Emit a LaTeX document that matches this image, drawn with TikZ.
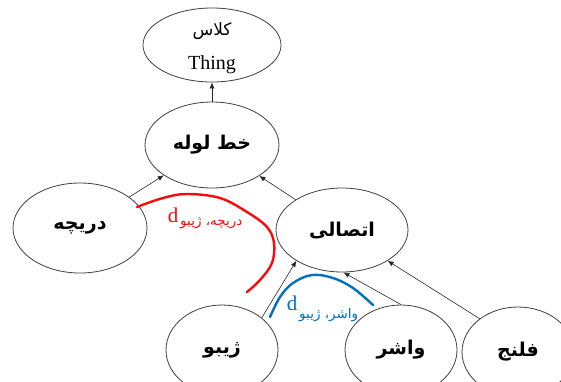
\documentclass[tikz,border=0pt]{standalone}
\usepackage{fontspec}
\setmainfont{Liberation Serif}
\newfontfamily\fa[Script=Arabic,BoldFont={DejaVu Sans Bold}]{DejaVu Sans}
\TeXXeTstate=1
\usetikzlibrary{shapes.geometric,arrows.meta}
\definecolor{rcol}{RGB}{250,10,10}
\definecolor{bcol}{RGB}{0,112,192}
\newcommand\rl[1]{\beginR #1\endR}
\tikzset{
  ent/.style={ellipse,draw=black!75,line width=0.8pt,inner sep=0pt,
    minimum width=134pt,minimum height=86pt,
    font=\fa\bfseries\fontsize{19}{22}\selectfont},
  small/.style={ent,minimum width=112pt,minimum height=90pt},
  isa/.style={draw=black!85,line width=0.6pt,-{Latex[length=6pt,width=5pt]}},
  simlab/.style={font=\fa\fontsize{13.5}{15}\selectfont,inner sep=0pt},
  dlab/.style={font=\fontsize{21}{24}\selectfont,inner sep=0pt},
}
\begin{document}
\begin{tikzpicture}[x=1pt,y=-1pt]
\clip (0,0) rectangle (561,381);
\fill[white] (0,0) rectangle (561,381);
% nodes
\node[ent,minimum width=138pt,minimum height=74pt] (thing) at (212,45) {};
\node[font=\fa\fontsize{17}{19}\selectfont,inner sep=0pt] (thingfa) at (212,31) {\rl{کلاس}};
\node[font=\fontsize{20}{22}\selectfont,inner sep=0pt,anchor=base] (thingen) at (212,69) {Thing};
\node[ent] (pipe) at (212,145) {\rl{خط لوله}};
\node[ent,minimum height=90pt] (valve) at (80,228) {\rl{دریچه}};
\node[ent,minimum width=132pt,minimum height=84pt] (fit) at (342,230) {\rl{اتصالی}};
\node[small] (gib) at (222,350) {\rl{ژیبو}};
\node[small] (wash) at (401,350) {\rl{واشر}};
\node[small] (flng) at (518,352) {\rl{فلنج}};
% connectors
\draw[isa] (pipe) -- (thing);
\draw[isa] (valve) -- (pipe);
\draw[isa] (fit) -- (pipe);
\draw[isa] (gib.39) -- (fit.214);
\draw[isa] (wash.north) -- (fit.272);
\draw[isa] (flng.139) -- (fit.326);
% similarity curves
\draw[rcol,line width=2.4pt,line cap=round] plot[smooth,tension=0.6] coordinates
  {(137,207) (163,198) (187,194) (220,198) (247,212) (267,227) (274,243) (272,263) (260,280) (247,292)};
\draw[bcol,line width=2.4pt,line cap=round] plot[smooth,tension=0.6] coordinates
  {(270,317) (280,297) (293,283) (312,275) (333,278) (353,288) (373,305)};
% similarity labels
\node[dlab,text=rcol,anchor=base] (dr) at (173,222) {d};
\node[simlab,text=rcol,anchor=west] (drs) at (180,223) {\rl{دریچه، ژیبو}};
\node[dlab,text=bcol,anchor=base] (db) at (292,310) {d};
\node[simlab,text=bcol,anchor=west] (dbs) at (299,315) {\rl{واشر، ژیبو}};
\end{tikzpicture}
\end{document}
